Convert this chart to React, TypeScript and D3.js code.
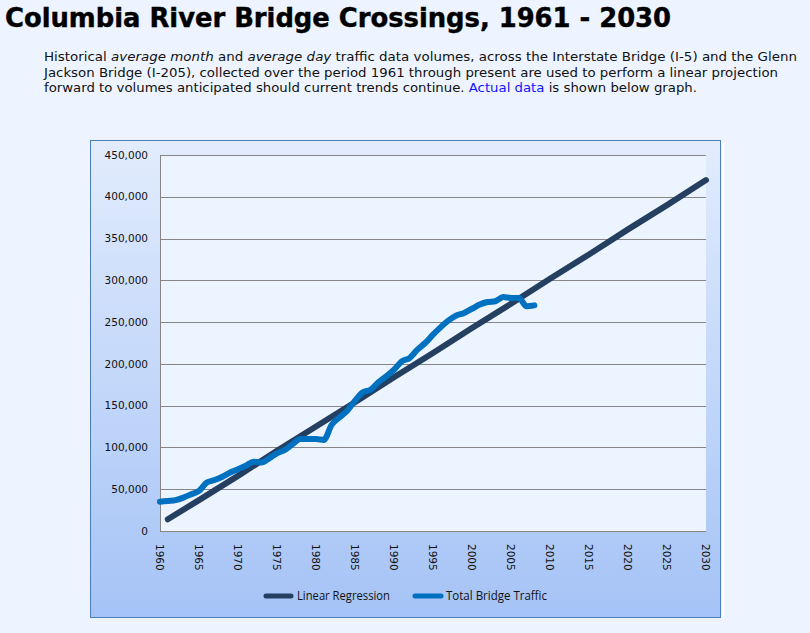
import React from 'react';
import * as d3 from 'd3';

// Total bridge traffic (I-5 + I-205), average day volumes
const trafficYears = [
  1960, 1961, 1962, 1963, 1964, 1965, 1966, 1967, 1968, 1969,
  1970, 1971, 1972, 1973, 1974, 1975, 1976, 1977, 1978, 1979,
  1980, 1981, 1982, 1983, 1984, 1985, 1986, 1987, 1988, 1989,
  1990, 1991, 1992, 1993, 1994, 1995, 1996, 1997, 1998, 1999,
  2000, 2001, 2002, 2003, 2004, 2005, 2006, 2007, 2008,
];
const trafficValues = [
  35000, 36000, 37000, 40000, 44000, 48000, 58000, 61000, 65000, 70000,
  74000, 78000, 83000, 82000, 87000, 93000, 97000, 104000, 110000, 110000,
  110000, 109000, 127000, 136000, 144000, 156000, 166000, 169000, 178000, 185000,
  193000, 203000, 207000, 217000, 225000, 235000, 244000, 252000, 258000, 261000,
  266000, 271000, 274000, 275000, 280000, 279000, 279000, 269000, 270000,
];

// Linear regression projection
const regressionYears = [1961, 1965, 1970, 1975, 1980, 1985, 1990, 1995, 2000, 2005, 2010, 2015, 2020, 2025, 2030];
const regressionValues = [14000, 37000, 66000, 96000, 125000, 154000, 184000, 213000, 243000, 272000, 302000, 331000, 361000, 390000, 420000];

const yTicks = [0, 50000, 100000, 150000, 200000, 250000, 300000, 350000, 400000, 450000];
const xTicks = [1960, 1965, 1970, 1975, 1980, 1985, 1990, 1995, 2000, 2005, 2010, 2015, 2020, 2025, 2030];

const seriesNames = ['Linear Regression', 'Total Bridge Traffic'];
const seriesColors = ['#243f60', '#0070c0'];

const W = 810;
const H = 633;
const plot = { left: 160, right: 706, top: 155, bottom: 531 };

const App: React.FC = () => {
  const x = d3.scaleLinear().domain([1960, 2030]).range([plot.left, plot.right]);
  const y = d3.scaleLinear().domain([0, 450000]).range([plot.bottom, plot.top]);
  const fmt = d3.format(',');

  const regLine = d3.line<number>()
    .x((_, i) => x(regressionYears[i]))
    .y(d => y(d))
    .curve(d3.curveLinear);

  const trafficLine = d3.line<number>()
    .x((_, i) => x(trafficYears[i]))
    .y(d => y(d))
    .curve(d3.curveMonotoneX);

  const bodyFont = '"DejaVu Sans Condensed", "DejaVu Sans", sans-serif';
  const legendFont = '"Open Sans", "Noto Sans", sans-serif';

  return (
    <div style={{ position: 'absolute', left: 0, top: 0, width: W, height: H, background: '#edf4ff' }}>
      <svg width={W} height={H} style={{ display: 'block' }}>
        <defs>
          <linearGradient id="panelGrad" x1="0" y1="0" x2="0" y2="1">
            <stop offset="0%" stopColor="#e2ecfd" />
            <stop offset="100%" stopColor="#a5c3f6" />
          </linearGradient>
        </defs>
        <rect x={0} y={0} width={W} height={H} fill="#edf4ff" />

        {/* title + intro */}
        <text x={5} y={26.5} fontFamily={bodyFont} fontWeight="bold" fontSize={27} fill="#000"
          stroke="#000" strokeWidth={0.4} textLength={666} lengthAdjust="spacingAndGlyphs">
          Columbia River Bridge Crossings, 1961 - 2030
        </text>
        <g fontFamily={bodyFont} fontSize={13} fill="#111">
          <text x={44} y={61} textLength={753} lengthAdjust="spacingAndGlyphs">
            Historical <tspan fontStyle="italic">average month</tspan> and <tspan fontStyle="italic">average day</tspan> traffic data volumes, across the Interstate Bridge (I-5) and the Glenn
          </text>
          <text x={44} y={76.5} textLength={734} lengthAdjust="spacingAndGlyphs">
            Jackson Bridge (I-205), collected over the period 1961 through present are used to perform a linear projection
          </text>
          <text x={44} y={92} textLength={653} lengthAdjust="spacingAndGlyphs">
            forward to volumes anticipated should current trends continue. <tspan fill="#1414ff">Actual data</tspan> is shown below graph.
          </text>
        </g>

        {/* chart panel */}
        <rect x={722} y={142} width={2} height={477} fill="#ffffff" opacity={0.8} />
        <rect x={90.5} y={140.5} width={630} height={477} fill="url(#panelGrad)" stroke="#4a7ebb" strokeWidth={1} />
        <rect x={plot.left} y={plot.top} width={plot.right - plot.left} height={plot.bottom - plot.top} fill="#ebf4ff" />

        {/* gridlines */}
        {yTicks.filter(t => t > 0).map(t => (
          <line key={t} x1={plot.left} x2={plot.right} y1={Math.round(y(t)) + 0.5} y2={Math.round(y(t)) + 0.5}
            stroke="#868686" strokeWidth={1} />
        ))}
        <line x1={plot.left + 0.5} x2={plot.left + 0.5} y1={plot.top} y2={plot.bottom} stroke="#868686" />
        <line x1={plot.left} x2={plot.right} y1={plot.bottom + 0.5} y2={plot.bottom + 0.5} stroke="#868686" />

        {/* y tick labels */}
        <g fontFamily='"DejaVu Sans", sans-serif' fontSize={10.5} fill="#111" textAnchor="end">
          {yTicks.map(t => (
            <text key={t} x={148} y={y(t)} dy="0.35em">{fmt(t)}</text>
          ))}
        </g>

        {/* x tick labels, rotated */}
        <g fontFamily='"DejaVu Sans", sans-serif' fontSize={10.5} fill="#111">
          {xTicks.map(t => (
            <text key={t} transform={`translate(${x(t)},${544}) rotate(90)`} dy="0.35em">{t}</text>
          ))}
        </g>

        {/* series */}
        <path d={regLine(regressionValues) || ''} fill="none" stroke={seriesColors[0]} strokeWidth={6}
          strokeLinecap="round" strokeLinejoin="round" />
        <path d={trafficLine(trafficValues) || ''} fill="none" stroke={seriesColors[1]} strokeWidth={6}
          strokeLinecap="round" strokeLinejoin="round" />

        {/* legend */}
        <g fontFamily={legendFont} fontSize={12} fill="#111">
          <line x1={266} x2={291} y1={596} y2={596} stroke={seriesColors[0]} strokeWidth={5} strokeLinecap="round" />
          <text x={297} y={600} textLength={93} lengthAdjust="spacingAndGlyphs">{seriesNames[0]}</text>
          <line x1={415} x2={441} y1={596} y2={596} stroke={seriesColors[1]} strokeWidth={5} strokeLinecap="round" />
          <text x={446} y={600} textLength={101} lengthAdjust="spacingAndGlyphs">{seriesNames[1]}</text>
        </g>
      </svg>
    </div>
  );
};

export default App;
